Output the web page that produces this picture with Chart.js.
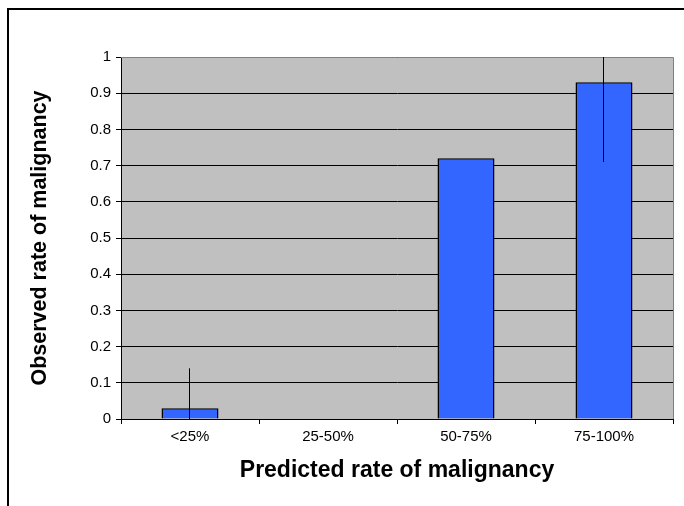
<!DOCTYPE html>
<html><head><meta charset="utf-8">
<script src="https://cdn.jsdelivr.net/npm/chart.js@4"></script>
<style>html,body{margin:0;padding:0;background:#fff}#wrap{width:684px;height:506px;position:relative}</style>
</head><body><div id="wrap"><canvas id="c" width="684" height="506"></canvas></div>
<script>
const categories = ['<25%', '25-50%', '50-75%', '75-100%'];
const observedRate = [0.03, 0, 0.72, 0.93];
const errorLow = [0, null, null, 0.71];
const errorHigh = [0.14, null, null, 1.0];
const yTickValues = [0, 0.1, 0.2, 0.3, 0.4, 0.5, 0.6, 0.7, 0.8, 0.9, 1];
const xTitle = 'Predicted rate of malignancy';
const yTitle = 'Observed rate of malignancy';

Chart.defaults.font.family = '"Liberation Sans", Arial, sans-serif';
Chart.defaults.color = '#000';

const framePlugin = {
  id: 'frame',
  beforeDraw(chart) {
    const {ctx, chartArea: a} = chart;
    ctx.save();
    ctx.fillStyle = '#fff';
    ctx.fillRect(0, 0, chart.width, chart.height);
    ctx.fillStyle = '#C0C0C0';
    ctx.fillRect(a.left, a.top, a.right - a.left, a.bottom - a.top);
    ctx.strokeStyle = '#000';
    ctx.lineWidth = 2;
    ctx.beginPath();
    ctx.moveTo(8, chart.height);
    ctx.lineTo(8, 9);
    ctx.lineTo(chart.width, 9);
    ctx.stroke();
    ctx.restore();
  },
  beforeDatasetsDraw(chart) {
    const {ctx, chartArea: a} = chart;
    ctx.save();
    ctx.strokeStyle = '#808080';
    ctx.lineWidth = 1;
    ctx.beginPath();
    ctx.moveTo(a.left, a.top + 0.5);
    ctx.lineTo(a.right + 0.5, a.top + 0.5);
    ctx.lineTo(a.right + 0.5, a.bottom);
    ctx.stroke();
    ctx.restore();
  },
  afterDatasetsDraw(chart) {
    const {ctx} = chart;
    const meta = chart.getDatasetMeta(0);
    const ys = chart.scales.y;
    ctx.save();
    ctx.strokeStyle = '#000';
    ctx.lineWidth = 1;
    meta.data.forEach((bar, i) => {
      if (errorLow[i] == null) return;
      const x = Math.round(bar.x) - 0.5;
      ctx.beginPath();
      ctx.moveTo(x, ys.getPixelForValue(errorLow[i]));
      ctx.lineTo(x, ys.getPixelForValue(errorHigh[i]));
      ctx.stroke();
    });
    ctx.restore();
  }
};

new Chart(document.getElementById('c'), {
  type: 'bar',
  data: {
    labels: categories,
    datasets: [{
      data: observedRate,
      backgroundColor: '#3366FF',
      borderColor: '#000',
      borderWidth: 1.5,
      categoryPercentage: 1,
      barPercentage: 0.413
    }]
  },
  options: {
    responsive: false,
    animation: false,
    devicePixelRatio: 1,
    layout: {padding: {left: 0, top: 57, right: 11, bottom: 0}},
    plugins: {legend: {display: false}, tooltip: {enabled: false}},
    scales: {
      x: {
        offset: true,
        grid: {display: true, drawOnChartArea: false, color: '#000', tickLength: 5},
        border: {display: true, color: '#000', width: 1},
        ticks: {font: {size: 15}, padding: 4, maxRotation: 0},
        title: {display: true, text: xTitle, font: {size: 23, weight: 'bold'}, padding: {top: 0, bottom: 22}},
        afterFit(s) { s.height = 87; }
      },
      y: {
        min: 0, max: 1,
        afterBuildTicks(s) { s.ticks = yTickValues.map(v => ({value: v})); },
        grid: {color: '#000', tickColor: '#000', tickLength: 5},
        border: {display: true, color: '#000', width: 1},
        ticks: {font: {size: 15}, padding: 5, callback: v => String(Math.round(v * 10) / 10)},
        title: {display: true, text: yTitle, font: {size: 21.5, weight: 'bold'}, padding: {top: 27, bottom: 0}},
        afterFit(s) { s.width = 121; }
      }
    }
  },
  plugins: [framePlugin]
});
</script></body></html>
